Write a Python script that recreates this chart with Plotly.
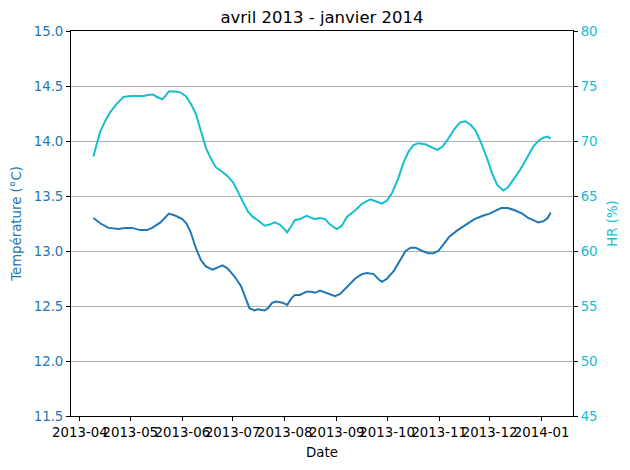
import plotly.graph_objects as go
import pandas as pd

start = pd.Timestamp("2013-04-01")

temp_days = [8.1, 12.3, 17, 23, 27, 31, 36, 40, 43, 48, 53, 57, 61, 63.5, 66, 69, 72, 75, 79, 83, 85, 88,
             92, 96, 98.5, 101, 104, 106, 110, 112, 114.6, 117, 120.6, 123.5, 126, 128, 131, 135, 138, 140,
             143, 148, 152, 155, 159, 164, 168, 171, 175, 178, 180, 183, 187, 191, 194, 197, 200, 204,
             207.5, 210.5, 213.5, 217, 220, 225, 230, 235, 240, 244, 248, 251, 255, 259, 263.5, 267, 270,
             273, 276, 278.6, 280.4]
temp_vals = [13.30, 13.25, 13.21, 13.20, 13.21, 13.21, 13.19, 13.19, 13.21, 13.26, 13.34, 13.32, 13.29,
             13.25, 13.17, 13.03, 12.92, 12.86, 12.83, 12.86, 12.87, 12.84, 12.77, 12.68, 12.58, 12.48,
             12.46, 12.47, 12.46, 12.48, 12.53, 12.54, 12.53, 12.51, 12.57, 12.60, 12.60, 12.63, 12.63,
             12.62, 12.64, 12.61, 12.59, 12.61, 12.67, 12.75, 12.79, 12.80, 12.79, 12.74, 12.72, 12.75,
             12.82, 12.92, 13.00, 13.03, 13.03, 13.00, 12.98, 12.98, 13.00, 13.07, 13.13, 13.19, 13.24,
             13.29, 13.32, 13.34, 13.37, 13.39, 13.39, 13.37, 13.34, 13.30, 13.28, 13.26, 13.27, 13.30, 13.35]

hr_days = [8, 10, 12, 15, 18, 22, 26, 30, 34, 38, 41, 44, 46, 49, 51, 53, 57, 60, 63, 66, 69, 72, 75, 78,
           81, 84, 88, 91.4, 94.4, 97, 100, 103, 106, 110, 113, 116, 119, 121.8, 123.5, 126, 128, 131, 135,
           140, 143, 146, 149, 153, 156, 159, 164, 168, 173, 176.5, 180, 183, 186, 189.6, 192.6, 195.6,
           198.5, 201.5, 205.7, 210, 213, 216, 219.4, 223.6, 226.5, 229.5, 232.5, 235.5, 238.5, 242.6,
           245.6, 248.6, 252.2, 255, 258.7, 262.3, 266.4, 270, 273, 276, 278.6, 280.4]
hr_vals = [68.6, 69.8, 70.8, 71.8, 72.6, 73.4, 74.0, 74.1, 74.1, 74.1, 74.2, 74.2, 74.0, 73.8, 74.1, 74.5,
           74.5, 74.4, 74.1, 73.4, 72.5, 70.9, 69.4, 68.4, 67.6, 67.3, 66.8, 66.2, 65.3, 64.6, 63.6, 63.1,
           62.8, 62.3, 62.4, 62.6, 62.4, 62.0, 61.7, 62.3, 62.8, 62.9, 63.2, 62.9, 63.0, 62.9, 62.4, 62.0,
           62.3, 63.1, 63.7, 64.3, 64.7, 64.5, 64.3, 64.6, 65.3, 66.6, 68.0, 69.0, 69.6, 69.8, 69.7, 69.4,
           69.2, 69.5, 70.2, 71.2, 71.7, 71.8, 71.5, 71.0, 70.0, 68.4, 67.0, 66.0, 65.5, 65.8, 66.6, 67.4,
           68.5, 69.5, 70.0, 70.3, 70.4, 70.2]

month_ticks = ["2013-04-01", "2013-05-01", "2013-06-01", "2013-07-01", "2013-08-01", "2013-09-01",
               "2013-10-01", "2013-11-01", "2013-12-01", "2014-01-01"]
month_labels = ["2013-04", "2013-05", "2013-06", "2013-07", "2013-08", "2013-09",
                "2013-10", "2013-11", "2013-12", "2014-01"]
temp_ticks = [11.5, 12.0, 12.5, 13.0, 13.5, 14.0, 14.5, 15.0]
hr_ticks = [45, 50, 55, 60, 65, 70, 75, 80]

temp_dates = [start + pd.Timedelta(days=d) for d in temp_days]
hr_dates = [start + pd.Timedelta(days=d) for d in hr_days]

BLUE = "#1f77b4"
CYAN = "#17becf"
FONT = "DejaVu Sans"
W, H = 630, 470

fig = go.Figure()
fig.add_trace(go.Scatter(x=temp_dates, y=temp_vals, mode="lines", line=dict(color=BLUE, width=2),
                         name="Température", yaxis="y"))
fig.add_trace(go.Scatter(x=hr_dates, y=hr_vals, mode="lines", line=dict(color=CYAN, width=2),
                         name="HR", yaxis="y2"))

fig.update_layout(
    width=W, height=H,
    margin=dict(l=63, r=65, t=23, b=62, autoexpand=False),
    paper_bgcolor="white", plot_bgcolor="white",
    showlegend=False,
    font=dict(family=FONT, size=13, color="black"),
    title=dict(text="avril 2013 - janvier 2014", x=(63 + (W - 65)) / 2 / W, xanchor="center",
               y=1 - 9 / H, yanchor="middle",
               font=dict(family=FONT, size=16.5, color="black")),
    xaxis=dict(
        type="date", automargin=False,
        range=[start + pd.Timedelta(days=-5.3), start + pd.Timedelta(days=293.7)],
        tickmode="array", tickvals=month_ticks, ticktext=month_labels, tickangle=0,
        showgrid=False, zeroline=False,
        showline=True, linecolor="black", linewidth=1, mirror=True,
        ticks="outside", ticklen=4, tickcolor="black",
        tickfont=dict(family=FONT, size=13.3, color="black"),
        title=dict(text="Date", font=dict(family=FONT, size=13.3, color="black"), standoff=8),
    ),
    yaxis=dict(
        range=[11.5, 15.0], tickmode="array", tickvals=temp_ticks, automargin=False,
        ticktext=[f"{v:.1f}" for v in temp_ticks],
        showgrid=True, gridcolor="#b0b0b0", gridwidth=1, zeroline=False,
        showline=True, linecolor="black", linewidth=1,
        ticks="outside", ticklen=4, tickcolor="black",
        tickfont=dict(family=FONT, size=13.3, color=BLUE),
        title=dict(text="Température (°C)", font=dict(family=FONT, size=13.3, color=BLUE), standoff=9),
    ),
    yaxis2=dict(
        range=[45, 80], overlaying="y", side="right", anchor="x", automargin=False,
        tickmode="array", tickvals=hr_ticks, ticktext=[str(v) for v in hr_ticks],
        showgrid=False, zeroline=False,
        showline=True, linecolor="black", linewidth=1,
        ticks="outside", ticklen=4, tickcolor="black",
        tickfont=dict(family=FONT, size=13.3, color=CYAN),
        title=dict(text="HR (%)", font=dict(family=FONT, size=13.3, color=CYAN), standoff=11),
    ),
)

fig.write_html("out.html")
